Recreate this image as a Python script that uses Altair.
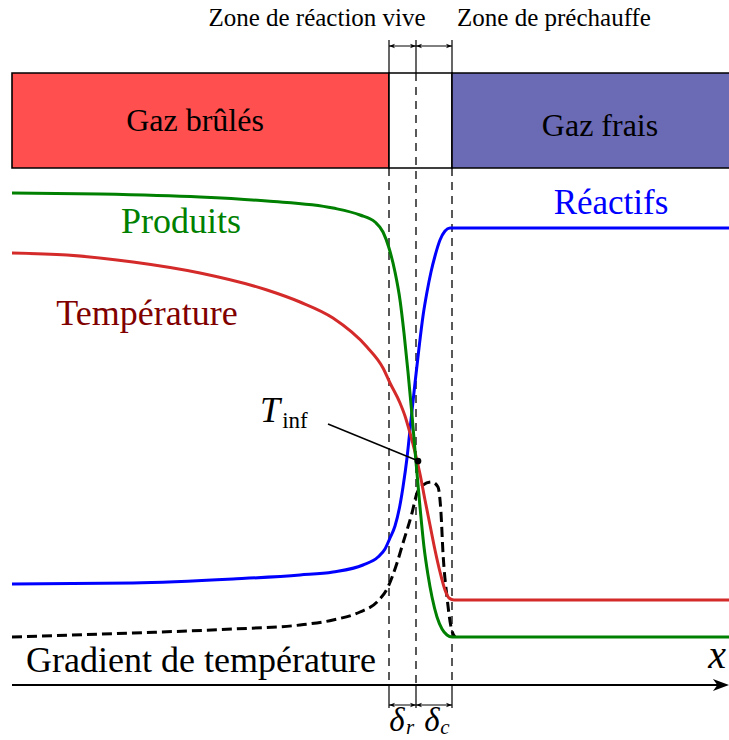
import altair as alt
import pandas as pd

# ---------------- data (pixel-like units, y downward) ----------------
prod_x = [12, 100, 200, 267, 333, 360, 375, 383, 389, 395, 400, 404, 408, 412, 416, 420, 424, 428, 432, 437, 442, 447, 452, 729]
prod_y = [193, 194, 197, 201, 208, 215, 222, 232, 248, 272, 300, 333, 372, 415, 462, 507, 547, 575, 597, 617, 629, 635, 637, 637]

reac_x = [12, 133, 233, 300, 333, 363, 378, 385, 390, 395, 400, 403, 407, 411, 415, 419, 423, 427, 431, 435, 440, 445, 450, 729]
reac_y = [584, 583, 579, 575, 572, 565, 557, 549, 538, 526, 505, 487, 458, 420, 383, 348, 316, 292, 272, 256, 240, 231, 228, 228]

temp_x = [12, 67, 133, 200, 267, 300, 333, 367, 383, 390, 400, 405, 410, 415, 420, 425, 430, 435, 440, 445, 449, 454, 729]
temp_y = [253, 255, 262, 273, 290, 302, 318, 347, 368, 383, 403, 416, 433, 452, 474, 500, 525, 550, 572, 590, 598, 600, 600]

grad_x = [12, 133, 233, 300, 333, 360, 377, 388, 397, 403, 412, 417, 423, 432, 438, 441, 443, 447, 451, 455]
grad_y = [637, 633, 629, 625, 620, 612, 602, 587, 563, 543, 513, 493, 485, 482, 487, 513, 553, 597, 627, 637]

zone_x = [389, 416, 452]          # zone boundaries
box_x = [12, 389, 452, 731]       # gas boxes
box_y = [73, 168]
box_fill = ["#FF4F4F", "#FFFFFF", "#6A6AB5"]

labels = pd.DataFrame({
    "text": ["Zone de réaction vive", "Zone de préchauffe", "Gaz brûlés", "Gaz frais",
             "Produits", "Réactifs", "Température", "Gradient de température", "inf"],
    "x": [317, 554, 195, 600, 181, 611, 147, 201, 295],
    "y": [18, 18, 121, 126, 222, 203, 314, 661, 421],
    "size": [25, 25, 32, 32, 36, 35, 36, 36, 23],
    "color": ["black", "black", "black", "black", "#008000", "#0000FF", "#800000", "black", "black"],
})
ital = pd.DataFrame({
    "text": ["T", "x", "δ", "r", "δ", "c"],
    "x": [270, 717, 397, 410, 432, 445],
    "y": [411, 656, 721, 728, 721, 728],
    "size": [36, 40, 33, 21, 33, 21],
})

FONT = "Liberation Serif"

# ---------------- scales ----------------
xs = alt.Scale(domain=[0, 729], nice=False, zero=False)
ys = alt.Scale(domain=[740, 0], nice=False, zero=False)


def X(f="x"):
    return alt.X(f"{f}:Q", scale=xs, axis=None)


def Y(f="y"):
    return alt.Y(f"{f}:Q", scale=ys, axis=None)


def curve(xv, yv, name):
    return pd.DataFrame({"x": xv, "y": yv, "s": name})


curves = pd.concat([
    curve(reac_x, reac_y, "Réactifs"),
    curve(temp_x, temp_y, "Température"),
    curve(prod_x, prod_y, "Produits"),
])

# boxes
boxes = pd.DataFrame({
    "x": box_x[:-1], "x2": box_x[1:],
    "y": [box_y[0]] * 3, "y2": [box_y[1]] * 3, "fill": box_fill,
})
box_layer = alt.Chart(boxes).mark_rect(stroke="black", strokeWidth=1.6, clip=True).encode(
    x=X(), x2="x2:Q", y=Y(), y2="y2:Q", color=alt.Color("fill:N", scale=None))

# dashed verticals
dash_df = pd.DataFrame({"x": zone_x, "y": [box_y[1], box_y[0], box_y[1]], "y2": [685, 685, 685]})
dash_layer = alt.Chart(dash_df).mark_rule(strokeDash=[8, 6], strokeWidth=1.3, color="black").encode(
    x=X(), y=Y(), y2="y2:Q")

# solid short verticals above and below
solid_df = pd.DataFrame({
    "x": zone_x + zone_x,
    "y": [40] * 3 + [685] * 3,
    "y2": [box_y[0]] * 3 + [708] * 3,
})
solid_layer = alt.Chart(solid_df).mark_rule(strokeWidth=1.2, color="black").encode(
    x=X(), y=Y(), y2="y2:Q")

# double arrows (zone widths)
arr_df = pd.DataFrame({
    "x": [zone_x[0], zone_x[1], zone_x[0], zone_x[1]],
    "x2": [zone_x[1], zone_x[2], zone_x[1], zone_x[2]],
    "y": [46, 46, 705, 705],
})
arr_rule = alt.Chart(arr_df).mark_rule(strokeWidth=1, color="black").encode(x=X(), x2="x2:Q", y=Y())
head_r_path = "M -1 -0.75 L 1 0 L -1 0.75 L -0.45 0 Z"
head_l_path = "M 1 -0.75 L -1 0 L 1 0.75 L 0.45 0 Z"
arr_head_r = alt.Chart(arr_df).transform_calculate(hx="datum.x2 - 3").mark_point(
    shape=head_r_path, filled=True, color="black", size=36, opacity=1).encode(x=X("hx"), y=Y())
arr_head_l = alt.Chart(arr_df).transform_calculate(hx="datum.x + 3").mark_point(
    shape=head_l_path, filled=True, color="black", size=36, opacity=1).encode(x=X("hx"), y=Y())

# x axis arrow
axis_df = pd.DataFrame({"x": [12], "x2": [722], "y": [685], "tip": [729]})
axis_rule = alt.Chart(axis_df).mark_rule(strokeWidth=2, color="black").encode(x=X(), x2="x2:Q", y=Y())
axis_head = alt.Chart(axis_df).transform_calculate(hx="datum.tip - 8").mark_point(
    shape=head_r_path, filled=True, color="black", size=260, opacity=1).encode(x=X("hx"), y=Y())

# curves
grad_layer = alt.Chart(curve(grad_x, grad_y, "Gradient")).mark_line(
    color="black", strokeWidth=3, strokeDash=[10, 5], interpolate="monotone").encode(x=X(), y=Y())
curve_layer = alt.Chart(curves).mark_line(strokeWidth=3, interpolate="monotone").encode(
    x=X(), y=Y(),
    color=alt.Color("s:N", scale=alt.Scale(domain=["Réactifs", "Température", "Produits"],
                                           range=["#0000FF", "#D42A2A", "#008000"]), legend=None),
    detail="s:N", order=alt.Order("x:Q"))

# T_inf annotation
ann_df = pd.DataFrame({"x": [328], "x2": [416], "y": [424], "y2": [460]})
ann_line = alt.Chart(ann_df).mark_rule(strokeWidth=1.5, color="black").encode(
    x=X(), x2="x2:Q", y=Y(), y2="y2:Q")
dot_df = pd.DataFrame({"x": [418], "y": [461]})
dot = alt.Chart(dot_df).mark_point(filled=True, color="black", size=45, opacity=1).encode(x=X(), y=Y())

# texts
txt = alt.Chart(labels).mark_text(font=FONT, align="center", baseline="middle").encode(
    x=X(), y=Y(), text="text:N", size=alt.Size("size:Q", scale=None), color=alt.Color("color:N", scale=None))
itxt = alt.Chart(ital).mark_text(font=FONT, fontStyle="italic", align="center",
                                 baseline="middle", color="black").encode(
    x=X(), y=Y(), text="text:N", size=alt.Size("size:Q", scale=None))

chart = alt.layer(
    box_layer, dash_layer, solid_layer, arr_rule, arr_head_r, arr_head_l,
    axis_rule, axis_head, grad_layer, curve_layer, ann_line, dot, txt, itxt,
).properties(width=729, height=740, padding=0, autosize="none").configure_view(stroke=None)

chart.save("out.html", embed_options={"renderer": "svg", "actions": False})
